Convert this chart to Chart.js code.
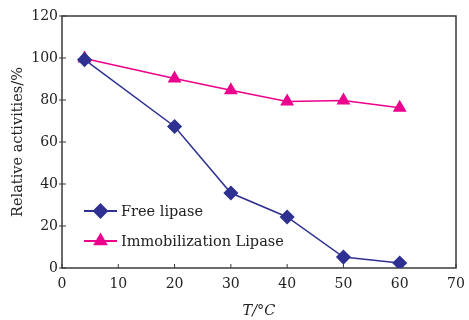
<!DOCTYPE html>
<html><head><meta charset="utf-8">
<script src="https://cdn.jsdelivr.net/npm/chart.js@4/dist/chart.umd.min.js"></script>
<style>html,body{margin:0;padding:0;background:#fff}#c{display:block}</style>
</head><body>
<canvas id="c" width="469" height="320"></canvas>
<script>
const temperatures = [4, 20, 30, 40, 50, 60];
const freeLipase = [99.2, 67.4, 35.7, 24.3, 5.2, 2.4];
const immobilizedLipase = [99.8, 90.2, 84.6, 79.3, 79.8, 76.3];
const seriesNames = ['Free lipase', 'Immobilization Lipase'];
const xTicks = [0, 10, 20, 30, 40, 50, 60, 70];
const yTicks = [0, 20, 40, 60, 80, 100, 120];
const xTitle = 'T/°C';
const yTitle = 'Relative activities/%';

const serif = "'DejaVu Serif','Liberation Serif',serif";
const BLUE = '#2E3192', PINK = '#EC008C';

const framePlugin = {
  id: 'frame',
  beforeDatasetsDraw(chart) {
    const {ctx, chartArea: a, scales} = chart;
    ctx.save();
    ctx.strokeStyle = '#3a3a3a';
    ctx.lineWidth = 1.5;
    ctx.strokeRect(a.left, a.top, a.right - a.left, a.bottom - a.top);
    ctx.lineWidth = 1;
    ctx.beginPath();
    xTicks.forEach(v => { const px = scales.x.getPixelForValue(v); ctx.moveTo(px, a.bottom); ctx.lineTo(px, a.bottom - 4); });
    yTicks.forEach(v => { const py = scales.y.getPixelForValue(v); ctx.moveTo(a.left - 3, py); ctx.lineTo(a.left + 4, py); });
    ctx.stroke();
    ctx.restore();
  },
  afterDatasetsDraw(chart) {
    const {ctx} = chart;
    ctx.save();
    const rows = [211, 241];
    chart.data.datasets.forEach((ds, i) => {
      const y = rows[i];
      ctx.strokeStyle = ds.borderColor; ctx.lineWidth = 2;
      ctx.beginPath(); ctx.moveTo(84, y); ctx.lineTo(117, y); ctx.stroke();
      ctx.fillStyle = ds.pointBackgroundColor; ctx.strokeStyle = ds.pointBorderColor;
      Chart.helpers.drawPoint(ctx, {pointStyle: ds.pointStyle, radius: ds.pointRadius, borderWidth: 1}, 100.5, y);
      ctx.fillStyle = '#222';
      ctx.font = '14.5px ' + serif;
      ctx.textBaseline = 'middle'; ctx.textAlign = 'left';
      ctx.fillText(ds.label, 121, y + 1);
    });
    ctx.restore();
  }
};

new Chart(document.getElementById('c'), {
  type: 'line',
  data: {
    datasets: [
      { label: seriesNames[0], data: temperatures.map((t, i) => ({x: t, y: freeLipase[i]})),
        borderColor: BLUE, backgroundColor: BLUE, pointBackgroundColor: BLUE, pointBorderColor: BLUE,
        pointStyle: 'rectRot', pointRadius: 6.5, borderWidth: 1.5, tension: 0 },
      { label: seriesNames[1], data: temperatures.map((t, i) => ({x: t, y: immobilizedLipase[i]})),
        borderColor: PINK, backgroundColor: PINK, pointBackgroundColor: PINK, pointBorderColor: PINK,
        pointStyle: 'triangle', pointRadius: 6.5, borderWidth: 1.5, tension: 0 }
    ]
  },
  options: {
    responsive: false, animation: false, devicePixelRatio: 1,
    layout: { padding: { left: 0, top: 16, right: 13, bottom: 0 } },
    plugins: { legend: { display: false }, tooltip: { enabled: false } },
    scales: {
      x: {
        type: 'linear', min: 0, max: 70,
        afterBuildTicks: s => { s.ticks = xTicks.map(v => ({value: v})); },
        afterFit: s => { s.height = 52; s.paddingRight = 0; s.paddingLeft = 0; },
        grid: { display: false, tickLength: 0 }, border: { display: false },
        ticks: { color: '#222', font: { family: serif, size: 14 }, padding: 8, maxRotation: 0 },
        title: { display: true, text: xTitle, color: '#222', font: { family: serif, size: 14.5, style: 'italic' }, padding: { top: 4, bottom: 0 } }
      },
      y: {
        min: 0, max: 120,
        afterBuildTicks: s => { s.ticks = yTicks.map(v => ({value: v})); },
        afterFit: s => { s.width = 62; s.paddingTop = 0; s.paddingBottom = 0; },
        grid: { display: false, tickLength: 0 }, border: { display: false },
        ticks: { color: '#222', font: { family: serif, size: 14 }, padding: 4 },
        title: { display: true, text: yTitle, color: '#222', font: { family: serif, size: 14.5 }, padding: { top: 10, bottom: 4 } }
      }
    }
  },
  plugins: [framePlugin]
});
</script>
</body></html>
